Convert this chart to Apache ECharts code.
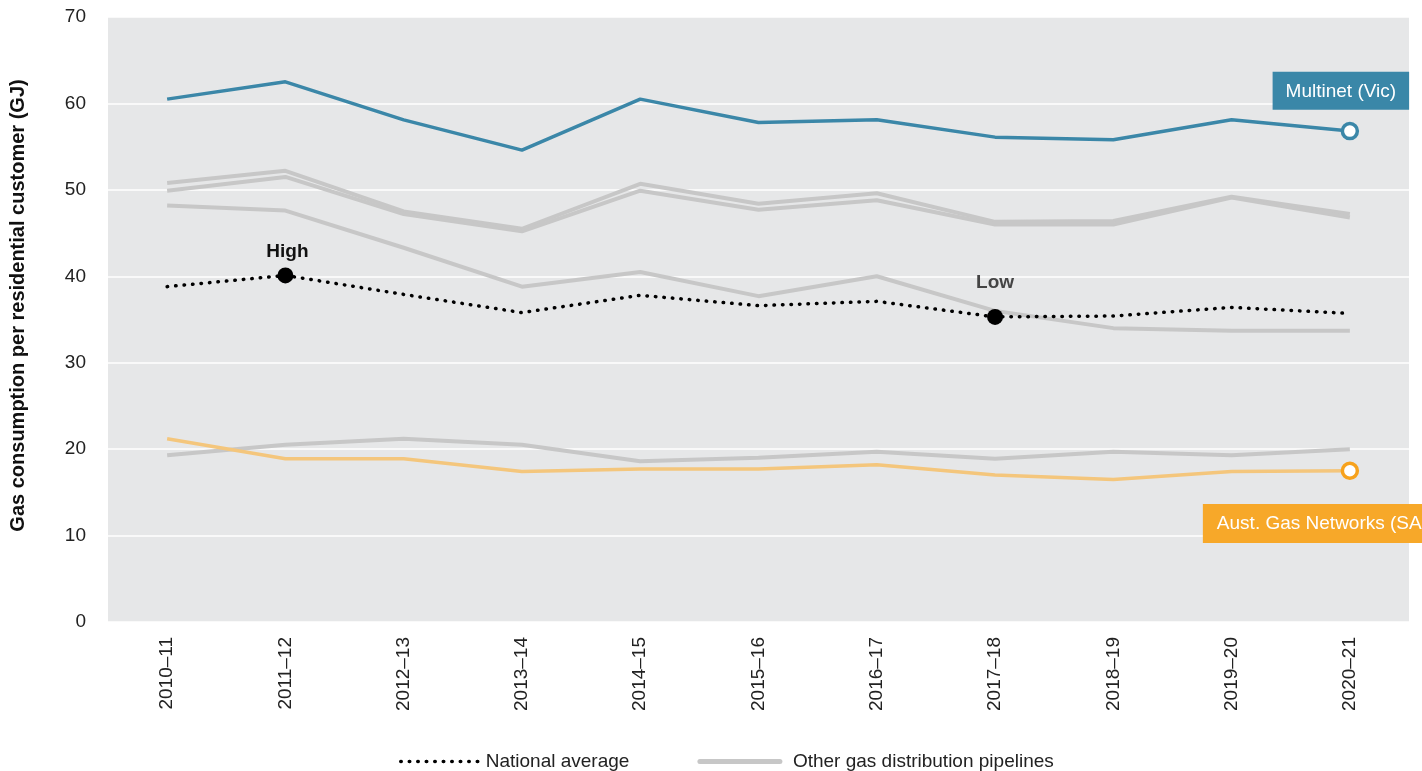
<!DOCTYPE html>
<html>
<head>
<meta charset="utf-8">
<title>Gas consumption per residential customer</title>
<script src="https://cdn.jsdelivr.net/npm/echarts@6/dist/echarts.min.js"></script>
<style>
  html, body { margin: 0; padding: 0; background: #ffffff; }
  #chart { width: 1422px; height: 771px; }
</style>
</head>
<body>
<div id="chart"></div>
<script>
// Financial years on the category axis
const categories = ['2010–11', '2011–12', '2012–13', '2013–14', '2014–15', '2015–16',
                    '2016–17', '2017–18', '2018–19', '2019–20', '2020–21'];

// Average gas consumption per residential customer (GJ)
const multinet = [60.5, 62.5, 58.1, 54.6, 60.5, 57.8, 58.1, 56.1, 55.8, 58.1, 56.8];
const austGasNetworks = [21.2, 18.9, 18.9, 17.4, 17.7, 17.7, 18.2, 17.0, 16.5, 17.4, 17.5];
const nationalAverage = [38.8, 40.1, 37.9, 35.8, 37.8, 36.6, 37.1, 35.3, 35.4, 36.4, 35.7];
const otherPipelineA = [50.8, 52.2, 47.5, 45.5, 50.7, 48.4, 49.6, 46.3, 46.4, 49.2, 47.2];
const otherPipelineB = [49.9, 51.5, 47.2, 45.2, 49.9, 47.7, 48.8, 46.0, 46.0, 49.1, 46.8];
const otherPipelineC = [48.2, 47.6, 43.3, 38.8, 40.5, 37.7, 40.0, 36.0, 34.0, 33.7, 33.7];
const otherPipelineD = [19.3, 20.5, 21.2, 20.5, 18.6, 19.0, 19.7, 18.9, 19.7, 19.3, 20.0];

// Y axis range
const yMin = 0, yMax = 70, yStep = 10;

// Annotated points on the national average
const highIndex = 1;
const lowIndex = 7;

const FONT = 'Liberation Sans, Arial, sans-serif';
const OTHER_NAME = 'Other gas distribution pipelines';
const lastCat = categories[categories.length - 1];
const DOTTED = [0.5, 8];

function otherSeries(values) {
  return {
    name: OTHER_NAME,
    type: 'line',
    data: values,
    symbol: 'none',
    z: 2,
    color: '#c7c7c7',
    lineStyle: { color: '#c7c7c7', width: 4 },
    emphasis: { disabled: true }
  };
}

const chart = echarts.init(document.getElementById('chart'), null, { renderer: 'canvas' });

chart.setOption({
  animation: false,
  backgroundColor: '#ffffff',
  textStyle: { fontFamily: FONT },
  grid: {
    left: 105, right: 13, top: 17, bottom: 149,
    show: true,
    backgroundColor: '#e6e7e8',
    borderWidth: 0
  },
  legend: {
    left: 394,
    top: 747,
    itemWidth: 80,
    itemHeight: 14,
    itemGap: 68,
    selectedMode: false,
    itemStyle: { opacity: 0 },
    textStyle: { fontFamily: FONT, fontSize: 19, color: '#222222' },
    data: [
      { name: 'National average',
        lineStyle: { color: '#000000', width: 3.5, type: DOTTED, cap: 'round' } },
      { name: OTHER_NAME,
        lineStyle: { color: '#c7c7c7', width: 5, cap: 'round' },
        textStyle: { padding: [0, 0, 0, 8] } }
    ]
  },
  xAxis: {
    type: 'category',
    data: categories,
    boundaryGap: true,
    axisLine: { show: false },
    axisTick: { show: false },
    axisLabel: {
      rotate: 90,
      margin: 15,
      fontSize: 19,
      color: '#222222',
      fontFamily: FONT
    },
    splitLine: { show: false }
  },
  yAxis: {
    type: 'value',
    min: yMin,
    max: yMax,
    interval: yStep,
    name: 'Gas consumption per residential customer (GJ)',
    nameLocation: 'middle',
    nameGap: 80,
    nameTextStyle: {
      fontSize: 20, fontWeight: 'bold', color: '#111111', fontFamily: FONT,
      padding: [0, 0, 0, 28]
    },
    axisLine: { show: false },
    axisTick: { show: false },
    axisLabel: { margin: 22, fontSize: 19, color: '#222222', fontFamily: FONT },
    splitLine: { lineStyle: { color: '#ffffff', width: 1.5 } }
  },
  series: [
    otherSeries(otherPipelineA),
    otherSeries(otherPipelineB),
    otherSeries(otherPipelineC),
    otherSeries(otherPipelineD),
    {
      name: 'Aust. Gas Networks (SA)',
      type: 'line',
      data: austGasNetworks,
      symbol: 'none',
      z: 3,
      lineStyle: { color: '#f4c67c', width: 3.5 },
      emphasis: { disabled: true },
      markPoint: {
        symbol: 'circle',
        symbolSize: 15,
        itemStyle: { color: '#ffffff', borderColor: '#f7a21c', borderWidth: 3.5 },
        label: {
          show: true,
          position: 'bottom',
          distance: 24,
          offset: [-147, 0],
          align: 'left',
          formatter: 'Aust. Gas Networks (SA)',
          color: '#ffffff',
          fontSize: 19,
          fontFamily: FONT,
          backgroundColor: '#f7a829',
          padding: [10, 20, 10, 14]
        },
        data: [{ coord: [lastCat, austGasNetworks[austGasNetworks.length - 1]] }]
      }
    },
    {
      name: 'Multinet (Vic)',
      type: 'line',
      data: multinet,
      symbol: 'none',
      z: 4,
      lineStyle: { color: '#3b87a8', width: 3.5 },
      emphasis: { disabled: true },
      markPoint: {
        symbol: 'circle',
        symbolSize: 15,
        itemStyle: { color: '#ffffff', borderColor: '#3b87a8', borderWidth: 3.5 },
        label: {
          show: true,
          position: 'top',
          distance: 12,
          offset: [-9, 0],
          formatter: 'Multinet (Vic)',
          color: '#ffffff',
          fontSize: 19,
          fontFamily: FONT,
          backgroundColor: '#3a87a8',
          padding: [10, 13, 9, 13]
        },
        data: [{ coord: [lastCat, multinet[multinet.length - 1]] }]
      }
    },
    {
      name: 'National average',
      type: 'line',
      data: nationalAverage,
      symbol: 'none',
      z: 5,
      color: '#000000',
      lineStyle: { color: '#000000', width: 3.5, type: DOTTED, cap: 'round' },
      emphasis: { disabled: true },
      markPoint: {
        symbol: 'circle',
        symbolSize: 16,
        itemStyle: { color: '#000000' },
        label: {
          show: true,
          position: 'top',
          fontSize: 19,
          fontWeight: 'bold',
          fontFamily: FONT
        },
        data: [
          {
            coord: [categories[highIndex], nationalAverage[highIndex]],
            label: { formatter: 'High', distance: 6, offset: [2, 0], color: '#111111' }
          },
          {
            coord: [categories[lowIndex], nationalAverage[lowIndex]],
            label: { formatter: 'Low', distance: 17, color: '#444444' }
          }
        ]
      }
    }
  ]
});
</script>
</body>
</html>
